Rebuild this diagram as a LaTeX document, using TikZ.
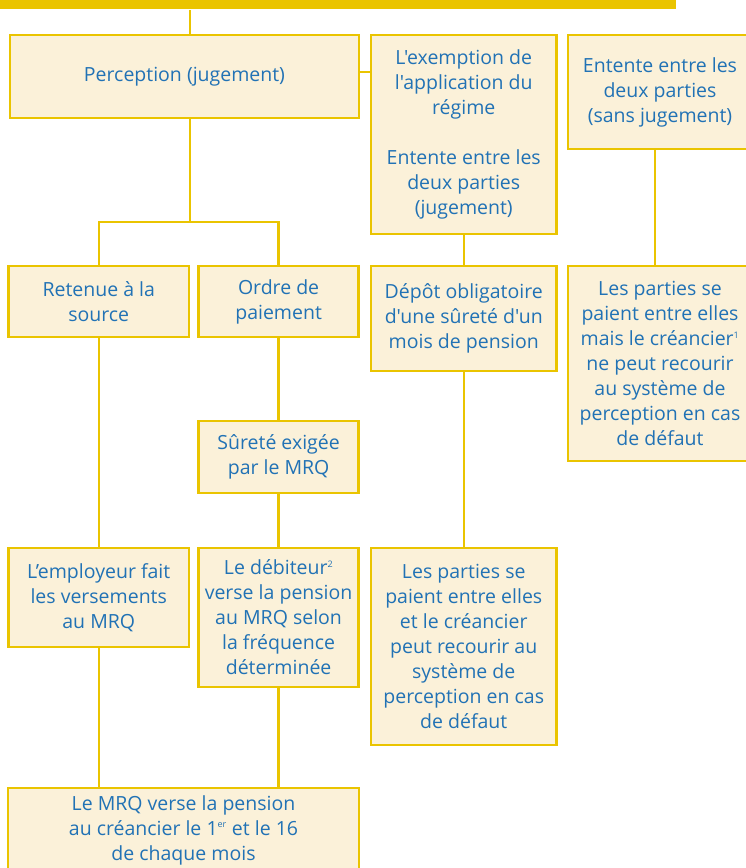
\documentclass[tikz,border=0pt]{standalone}
\usepackage{fontspec}
\setmainfont{Open Sans}[Ligatures=TeXOff]
\definecolor{yel}{RGB}{234,196,0}
\definecolor{boxfill}{RGB}{251,241,217}
\definecolor{txt}{RGB}{33,114,181}
\begin{document}
\begin{tikzpicture}[x=1pt,y=-1pt,
  box/.style={draw=yel, fill=boxfill, line width=2.5pt, text=txt, align=center,
    inner sep=0pt, font=\fontsize{19.5}{25}\selectfont},
  conn/.style={draw=yel, line width=2.3pt}]
\useasboundingbox (0,0) rectangle (745,868);
\newcommand{\sx}[1]{\textsuperscript{\fontsize{9}{9}\selectfont #1}}
% top bar
\node[fill=yel, inner sep=0pt, minimum width=676pt, minimum height=20pt, anchor=south west] (bar) at (0,9.5) {};
% boxes
\node[box, minimum width=349pt, minimum height=83pt] (perc) at (184.5,76.5) {Perception (jugement)};
\node[box, minimum width=185.5pt, minimum height=199pt] (exem) at (463.75,134.5)
  {L'exemption de\\l'application du\\régime\\[25pt]Entente entre les\\deux parties\\(jugement)};
\node[box, minimum width=184pt, minimum height=114pt] (sans) at (660,92)
  {Entente entre les\\deux parties\\(sans jugement)};
\node[box, minimum width=180.5pt, minimum height=71pt] (ret) at (98.75,301.5)
  {Retenue à la\\source};
\node[box, minimum width=160pt, minimum height=71pt] (ord) at (278.6,301.5)
  {Ordre de\\paiement};
\node[box, minimum width=185.5pt, minimum height=105pt] (dep) at (463.75,318.5)
  {Dépôt obligatoire\\d'une sûreté d'un\\mois de pension};
\node[box, minimum width=184pt, minimum height=195pt] (mais) at (660,363.5)
  {Les parties se\\paient entre elles\\mais le créancier\sx{1}\\ne peut recourir\\au système de\\perception en cas\\de défaut};
\node[box, minimum width=160pt, minimum height=72pt] (sur) at (278.6,457)
  {Sûreté exigée\\par le MRQ};
\node[box, minimum width=180.5pt, minimum height=99pt] (emp) at (98.75,597.5)
  {L’employeur fait\\les versements\\au MRQ};
\node[box, minimum width=160pt, minimum height=139pt] (deb) at (278.6,617.5)
  {Le débiteur\sx{2}\\verse la pension\\au MRQ selon\\la fréquence\\déterminée};
\node[box, minimum width=185.5pt, minimum height=197pt] (et) at (463.75,646.5)
  {Les parties se\\paient entre elles\\et le créancier\\peut recourir au\\système de\\perception en cas\\de défaut};
\node[box, minimum width=351pt, minimum height=84pt] (mrq) at (183.5,830)
  {Le MRQ verse la pension\\au créancier le 1\sx{er} et le 16\\de chaque mois};
% connectors
\coordinate (br) at (190,222);
\draw[conn] ([xshift=5.5pt]perc.north) -- ([xshift=5.5pt]perc.north |- bar.south);
\draw[conn] ([yshift=4.5pt]perc.east) -- ([yshift=4.5pt]perc.east -| exem.west);
\draw[conn] ([xshift=5.5pt]perc.south) -- (br);
\draw[conn] (ret.north) -- (ret.north |- br) -- (ord.north |- br) -- (ord.north);
\draw[conn] (exem.south) -- (dep.north);
\draw[conn] ([xshift=-5pt]sans.south) -- ([xshift=-5pt]mais.north);
\draw[conn] (ord.south) -- (sur.north);
\draw[conn] (sur.south) -- (deb.north);
\draw[conn] (ret.south) -- (emp.north);
\draw[conn] (dep.south) -- (et.north);
\draw[conn] (emp.south) -- (emp.south |- mrq.north);
\draw[conn] (deb.south) -- (deb.south |- mrq.north);
\end{tikzpicture}
\end{document}
